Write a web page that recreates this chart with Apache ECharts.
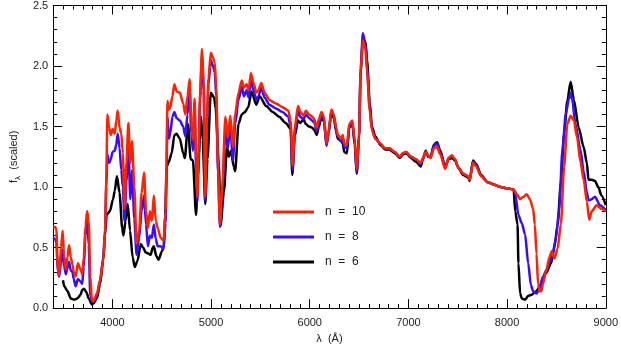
<!DOCTYPE html>
<html>
<head>
<meta charset="utf-8">
<script src="https://cdn.jsdelivr.net/npm/echarts@6/dist/echarts.min.js"></script>
<style>
  html, body { margin: 0; padding: 0; background: #fff; }
  #chart { width: 621px; height: 349px; }
</style>
</head>
<body>
<div id="chart"></div>
<script>
// wavelength (Angstrom) / scaled flux pairs
var fluxN10 = [
  [3400,0.67],[3420,0.67],[3432,0.65],[3447,0.34],[3460,0.27],[3480,0.5],[3496,0.64],[3509,0.44],[3529,0.32],[3544,0.42],
  [3561,0.52],[3578,0.42],[3595,0.36],[3608,0.3],[3628,0.26],[3650,0.37],[3677,0.32],[3694,0.28],[3710,0.42],[3727,0.68],
  [3744,0.8],[3760,0.72],[3776,0.26],[3793,0.06],[3809,0.06],[3843,0.12],[3875,0.23],[3908,0.4],[3925,0.62],[3938,1.05],
  [3949,1.6],[3967,1.49],[3984,1.43],[4001,1.48],[4024,1.44],[4039,1.55],[4054,1.63],[4073,1.49],[4090,1.44],[4106,1.28],
  [4123,0.82],[4142,1.2],[4162,1.53],[4182,1.2],[4199,1.38],[4222,1.0],[4245,0.53],[4271,0.64],[4296,0.95],[4321,1.12],
  [4341,0.8],[4360,0.66],[4380,0.8],[4400,0.72],[4420,0.93],[4440,0.72],[4459,0.66],[4489,0.58],[4519,0.56],[4539,0.8],
  [4548,1.2],[4558,1.71],[4573,1.64],[4588,1.66],[4608,1.75],[4628,1.85],[4651,1.79],[4684,1.78],[4717,1.69],[4739,1.6],
  [4761,1.75],[4783,1.89],[4799,1.55],[4816,1.39],[4833,1.73],[4849,1.23],[4861,0.92],[4875,1.3],[4888,1.77],[4908,2.14],
  [4925,1.87],[4941,0.92],[4959,1.6],[4974,1.9],[4997,2.11],[5019,2.07],[5037,2.03],[5053,1.82],[5070,1.17],[5090,0.69],
  [5113,1.0],[5145,1.58],[5169,1.41],[5195,1.59],[5222,1.33],[5244,1.6],[5278,1.78],[5311,1.88],[5333,1.82],[5360,1.85],
  [5380,1.8],[5403,1.94],[5430,1.86],[5459,1.78],[5479,1.8],[5509,1.86],[5542,1.78],[5591,1.72],[5657,1.69],[5724,1.66],
  [5783,1.63],[5806,1.55],[5826,1.18],[5848,1.49],[5881,1.67],[5905,1.62],[5937,1.59],[5961,1.63],[5994,1.6],[6026,1.58],
  [6048,1.56],[6070,1.49],[6093,1.56],[6119,1.62],[6145,1.58],[6169,1.36],[6192,1.47],[6219,1.64],[6244,1.6],[6268,1.49],
  [6284,1.43],[6318,1.4],[6334,1.43],[6350,1.36],[6377,1.35],[6400,1.52],[6432,1.55],[6456,1.39],[6476,1.15],[6499,1.41],
  [6516,1.95],[6538,2.21],[6565,2.14],[6581,1.95],[6608,1.63],[6630,1.47],[6664,1.4],[6714,1.36],[6763,1.32],[6806,1.32],
  [6862,1.29],[6911,1.25],[6944,1.28],[6977,1.29],[7026,1.25],[7076,1.23],[7125,1.2],[7147,1.24],[7175,1.29],[7202,1.26],
  [7224,1.24],[7258,1.32],[7291,1.33],[7323,1.27],[7373,1.15],[7407,1.24],[7439,1.26],[7472,1.23],[7506,1.16],[7555,1.11],
  [7605,1.09],[7621,1.06],[7654,1.2],[7687,1.17],[7736,1.09],[7803,1.04],[7868,1.02],[7934,1.0],[8000,0.99],[8066,0.98],
  [8099,0.94],[8132,0.9],[8165,0.92],[8198,0.94],[8231,0.9],[8264,0.82],[8281,0.69],[8298,0.45],[8314,0.2],[8330,0.14],
  [8347,0.14],[8363,0.2],[8396,0.31],[8429,0.42],[8452,0.47],[8479,0.41],[8512,0.49],[8545,0.69],[8578,1.17],[8610,1.52],
  [8644,1.59],[8677,1.55],[8709,1.41],[8743,1.21],[8776,1.06],[8808,0.88],[8832,0.73],[8858,0.8],[8907,0.85],[8957,0.82],
  [9000,0.8]
];

var fluxN8 = [
  [3400,0.58],[3420,0.57],[3432,0.54],[3447,0.3],[3460,0.26],[3480,0.38],[3496,0.48],[3509,0.35],[3529,0.28],[3544,0.33],
  [3561,0.38],[3578,0.31],[3595,0.3],[3608,0.24],[3628,0.18],[3650,0.24],[3677,0.22],[3694,0.2],[3710,0.34],[3727,0.6],
  [3744,0.74],[3760,0.52],[3776,0.1],[3793,0.06],[3809,0.05],[3843,0.1],[3875,0.23],[3908,0.42],[3925,0.65],[3938,1.0],
  [3949,1.27],[3967,1.2],[3984,1.23],[4001,1.29],[4024,1.3],[4039,1.35],[4054,1.44],[4073,1.32],[4090,1.14],[4106,1.0],
  [4123,0.72],[4142,1.05],[4162,1.33],[4182,0.9],[4199,1.14],[4222,0.74],[4245,0.44],[4271,0.58],[4296,0.8],[4321,0.93],
  [4341,0.69],[4360,0.51],[4380,0.6],[4400,0.58],[4420,0.69],[4440,0.57],[4459,0.51],[4489,0.51],[4519,0.49],[4539,0.7],
  [4548,1.1],[4558,1.58],[4573,1.4],[4588,1.45],[4608,1.58],[4628,1.62],[4651,1.57],[4684,1.55],[4717,1.5],[4739,1.42],
  [4761,1.6],[4783,1.8],[4799,1.45],[4816,1.3],[4833,1.68],[4849,1.15],[4861,0.88],[4875,1.25],[4888,1.72],[4908,2.08],
  [4925,1.8],[4941,0.89],[4959,1.55],[4974,1.85],[4997,2.05],[5019,2.0],[5037,1.95],[5053,1.75],[5070,1.12],[5090,0.67],
  [5113,0.95],[5145,1.45],[5169,1.32],[5195,1.5],[5222,1.22],[5244,1.52],[5278,1.72],[5311,1.83],[5333,1.75],[5360,1.8],
  [5380,1.74],[5403,1.88],[5430,1.8],[5459,1.72],[5479,1.75],[5509,1.82],[5542,1.74],[5591,1.68],[5657,1.65],[5724,1.62],
  [5783,1.58],[5806,1.5],[5826,1.14],[5848,1.45],[5881,1.63],[5905,1.58],[5937,1.56],[5961,1.6],[5994,1.57],[6026,1.55],
  [6048,1.53],[6070,1.46],[6093,1.53],[6119,1.6],[6145,1.56],[6169,1.34],[6192,1.45],[6219,1.63],[6244,1.59],[6268,1.47],
  [6284,1.42],[6318,1.38],[6334,1.41],[6350,1.33],[6377,1.32],[6400,1.5],[6432,1.53],[6456,1.37],[6476,1.12],[6499,1.42],
  [6516,1.98],[6538,2.27],[6565,2.18],[6581,1.98],[6608,1.65],[6630,1.48],[6664,1.4],[6714,1.36],[6763,1.32],[6806,1.32],
  [6862,1.29],[6911,1.25],[6944,1.28],[6977,1.29],[7026,1.25],[7076,1.23],[7125,1.19],[7147,1.24],[7175,1.29],[7202,1.26],
  [7224,1.24],[7258,1.34],[7291,1.36],[7323,1.28],[7373,1.16],[7407,1.24],[7439,1.26],[7472,1.23],[7506,1.16],[7555,1.11],
  [7605,1.09],[7621,1.06],[7654,1.21],[7687,1.18],[7736,1.09],[7803,1.04],[7868,1.02],[7934,1.0],[8000,0.99],[8066,0.98],
  [8083,0.94],[8115,0.77],[8149,0.7],[8182,0.61],[8214,0.37],[8241,0.19],[8264,0.14],[8298,0.12],[8323,0.15],[8363,0.26],
  [8396,0.31],[8429,0.37],[8462,0.45],[8495,0.58],[8528,0.82],[8561,1.31],[8594,1.6],[8627,1.73],[8644,1.78],[8660,1.72],
  [8693,1.52],[8743,1.31],[8776,1.13],[8808,0.96],[8825,0.89],[8858,0.9],[8891,0.92],[8941,0.85],[9000,0.81]
];

var fluxN6 = [
  [3499,0.23],[3512,0.18],[3546,0.14],[3578,0.08],[3608,0.07],[3645,0.08],[3677,0.11],[3694,0.15],[3712,0.16],[3737,0.13],
  [3760,0.08],[3793,0.03],[3809,0.04],[3843,0.08],[3875,0.2],[3908,0.4],[3925,0.6],[3941,0.77],[3974,0.8],[4007,0.9],
  [4024,0.97],[4046,1.09],[4073,0.95],[4099,0.66],[4112,0.6],[4133,0.72],[4155,0.86],[4179,0.64],[4205,0.42],[4227,0.34],
  [4254,0.39],[4288,0.53],[4311,0.5],[4338,0.46],[4370,0.45],[4387,0.44],[4410,0.5],[4420,0.51],[4445,0.43],[4469,0.4],
  [4502,0.47],[4519,0.5],[4535,0.77],[4551,1.17],[4568,1.2],[4601,1.28],[4628,1.43],[4650,1.44],[4684,1.4],[4717,1.28],
  [4734,1.24],[4766,1.52],[4793,1.23],[4816,1.22],[4848,0.77],[4865,1.09],[4898,1.58],[4915,1.39],[4941,0.86],[4964,1.23],
  [4997,1.78],[5031,1.74],[5046,1.65],[5080,1.17],[5096,0.68],[5130,0.96],[5162,1.33],[5179,1.25],[5202,1.3],[5229,1.17],
  [5244,1.13],[5278,1.52],[5311,1.6],[5343,1.62],[5377,1.66],[5410,1.79],[5459,1.68],[5492,1.75],[5558,1.67],[5625,1.62],
  [5690,1.58],[5756,1.53],[5806,1.48],[5823,1.1],[5848,1.42],[5881,1.55],[5905,1.53],[5937,1.56],[5961,1.52],[5994,1.5],
  [6026,1.49],[6048,1.47],[6070,1.43],[6093,1.5],[6119,1.58],[6145,1.54],[6169,1.35],[6192,1.45],[6219,1.62],[6244,1.57],
  [6268,1.46],[6284,1.4],[6318,1.38],[6334,1.36],[6350,1.29],[6377,1.28],[6400,1.49],[6432,1.52],[6456,1.35],[6476,1.11],
  [6499,1.4],[6516,1.95],[6538,2.22],[6565,2.2],[6581,2.05],[6608,1.7],[6630,1.5],[6664,1.42],[6714,1.35],[6763,1.31],
  [6806,1.31],[6862,1.28],[6911,1.24],[6944,1.27],[6977,1.28],[7026,1.24],[7076,1.21],[7125,1.17],[7147,1.23],[7175,1.3],
  [7202,1.25],[7224,1.25],[7258,1.35],[7291,1.37],[7323,1.3],[7373,1.17],[7407,1.23],[7439,1.24],[7472,1.22],[7506,1.16],
  [7555,1.1],[7605,1.08],[7621,1.05],[7654,1.22],[7687,1.19],[7736,1.1],[7803,1.04],[7868,1.02],[7934,1.0],[8000,0.99],
  [8066,0.98],[8083,0.8],[8106,0.69],[8115,0.37],[8132,0.12],[8149,0.08],[8182,0.07],[8214,0.1],[8248,0.11],[8298,0.14],
  [8330,0.18],[8396,0.29],[8446,0.37],[8479,0.5],[8512,0.69],[8545,1.04],[8578,1.44],[8610,1.71],[8644,1.87],[8677,1.72],
  [8726,1.49],[8776,1.33],[8808,1.2],[8825,1.06],[8858,1.06],[8891,1.05],[8924,1.0],[8957,0.93],[9000,0.85]
];

var SERIES_NAMES = ['n  =  10', 'n  =  8', 'n  =  6'];
var SERIES_COLORS = ['#ff2200', '#3a0cff', '#000000'];
var X_MAJOR = [4000, 5000, 6000, 7000, 8000, 9000];

var FONT = 'Liberation Sans, Arial, sans-serif';
var TEXT_COLOR = '#222';

var chart = echarts.init(document.getElementById('chart'), null, { renderer: 'canvas' });

function minorXAxis(pos, withLabels) {
  return {
    type: 'value', position: pos, min: 3400, max: 9000, interval: 100,
    axisLine: { show: true, lineStyle: { color: '#000', width: 1 } },
    axisTick: { show: true, inside: true, length: 4, lineStyle: { color: '#000' } },
    axisLabel: withLabels ? {
      show: true, margin: 9, color: TEXT_COLOR, fontFamily: FONT, fontSize: 11,
      formatter: function (v) { return v % 1000 === 0 ? String(v) : ''; }
    } : { show: false },
    splitLine: { show: false },
    name: withLabels ? '\u03bb  (\u00c5)' : '',
    nameLocation: 'middle', nameGap: 22,
    nameTextStyle: { color: TEXT_COLOR, fontFamily: FONT, fontSize: 11 }
  };
}

function majorXAxis(pos) {
  return {
    type: 'value', position: pos, min: 3400, max: 9000,
    axisLine: { show: false },
    axisTick: { show: true, inside: true, length: 9, customValues: X_MAJOR, lineStyle: { color: '#000' } },
    axisLabel: { show: false },
    splitLine: { show: false }
  };
}

function fluxYAxis(pos, withLabels) {
  return {
    type: 'value', position: pos, min: 0, max: 2.5, interval: 0.5,
    axisLine: { show: true, lineStyle: { color: '#000', width: 1 } },
    axisTick: { show: true, inside: true, length: 9, lineStyle: { color: '#000' } },
    minorTick: { show: true, splitNumber: 5, length: 4, lineStyle: { color: '#000' } },
    axisLabel: withLabels ? {
      show: true, margin: 5, color: TEXT_COLOR, fontFamily: FONT, fontSize: 11,
      formatter: function (v) { return v.toFixed(1); }
    } : { show: false },
    splitLine: { show: false },
    minorSplitLine: { show: false },
    name: withLabels ? '{a|f}{b|\u03bb}{a|  (scaled)}' : '',
    nameLocation: 'middle', nameGap: 27, nameRotate: 90,
    nameTextStyle: {
      color: TEXT_COLOR, fontFamily: FONT, fontSize: 11,
      rich: {
        a: { color: TEXT_COLOR, fontFamily: FONT, fontSize: 11 },
        b: { color: TEXT_COLOR, fontFamily: FONT, fontSize: 8, padding: [9, 0, 0, 0] }
      }
    }
  };
}

var seriesData = [fluxN10, fluxN8, fluxN6];
var series = [];
for (var i = seriesData.length - 1; i >= 0; --i) {
  series.push({
    name: SERIES_NAMES[i],
    type: 'line',
    data: seriesData[i],
    color: SERIES_COLORS[i],
    showSymbol: false,
    symbol: 'none',
    smooth: 0.25,
    smoothMonotone: 'x',
    lineStyle: { width: 2.5, color: SERIES_COLORS[i] },
    z: 10 - i
  });
}

chart.setOption({
  animation: false,
  grid: { left: 42, right: 14, top: 2, bottom: 37 },
  legend: {
    data: SERIES_NAMES,
    orient: 'vertical',
    left: 273, top: 205,
    padding: 0,
    icon: 'rect',
    itemWidth: 41, itemHeight: 3, itemGap: 11,
    textStyle: { color: TEXT_COLOR, fontFamily: FONT, fontSize: 12, lineHeight: 14, padding: [0, 0, 0, 6] }
  },
  xAxis: [minorXAxis('bottom', true), majorXAxis('bottom'), minorXAxis('top', false), majorXAxis('top')],
  yAxis: [fluxYAxis('left', true), fluxYAxis('right', false)],
  series: series
});
</script>
</body>
</html>
